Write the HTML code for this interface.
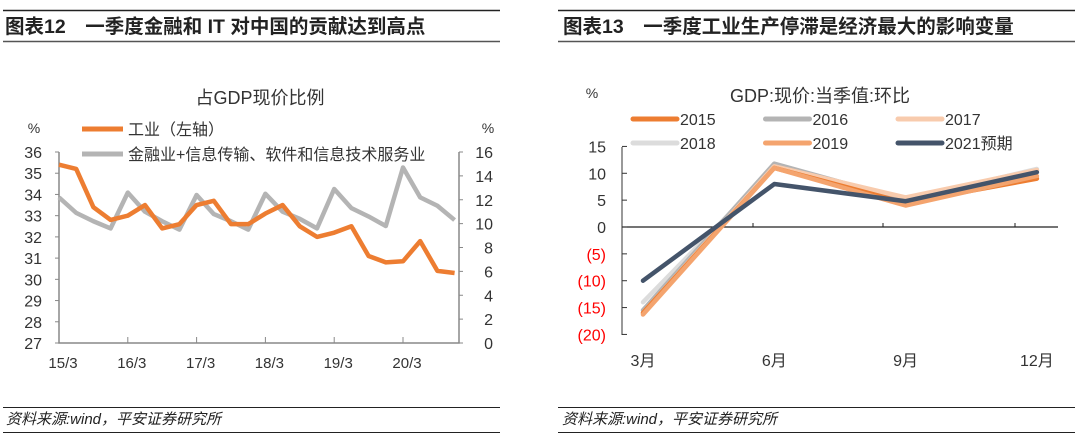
<!DOCTYPE html>
<html><head><meta charset="utf-8"><style>
body{margin:0;background:#fff;}
svg text{font-family:"Liberation Sans","Noto Sans CJK SC",sans-serif;}
</style></head><body>
<svg id="s" width="1080" height="442" viewBox="0 0 1080 442" xmlns="http://www.w3.org/2000/svg">
<g>
<line x1="3" y1="10.5" x2="500" y2="10.5" stroke="#222" stroke-width="1.5"/>
<text x="5" y="33" font-size="19.5" font-weight="bold" fill="#222">图表12　一季度金融和 IT 对中国的贡献达到高点</text>
<line x1="3" y1="41.5" x2="500" y2="41.5" stroke="#555" stroke-width="1.5"/>
</g>
<g>
<line x1="558" y1="10.5" x2="1075" y2="10.5" stroke="#222" stroke-width="1.5"/>
<text x="563" y="33" font-size="19.5" font-weight="bold" fill="#222">图表13　一季度工业生产停滞是经济最大的影响变量</text>
<line x1="558" y1="41.5" x2="1075" y2="41.5" stroke="#555" stroke-width="1.5"/>
</g>
<g>
<line x1="3" y1="407.5" x2="500" y2="407.5" stroke="#222" stroke-width="1"/>
<text x="6" y="424" font-size="15" font-style="italic" fill="#222">资料来源:wind，平安证券研究所</text>
<line x1="3" y1="432.5" x2="500" y2="432.5" stroke="#222" stroke-width="1"/>
</g>
<g>
<line x1="558" y1="407.5" x2="1075" y2="407.5" stroke="#222" stroke-width="1"/>
<text x="562" y="424" font-size="15" font-style="italic" fill="#222">资料来源:wind，平安证券研究所</text>
<line x1="558" y1="432.5" x2="1075" y2="432.5" stroke="#222" stroke-width="1"/>
</g>
<text x="260" y="104" font-size="18" text-anchor="middle" fill="#333">占GDP现价比例</text>
<text x="34" y="133" font-size="14" text-anchor="middle" fill="#333">%</text>
<text x="488" y="133" font-size="14" text-anchor="middle" fill="#333">%</text>
<text x="820" y="102" font-size="18" text-anchor="middle" fill="#333">GDP:现价:当季值:环比</text>
<text x="592" y="98" font-size="14" text-anchor="middle" fill="#333">%</text>
<g id="L"></g><g id="R"></g>
</svg>
<script>
// Left chart data
const qLabels=["15/3","16/3","17/3","18/3","19/3","20/3"];
const industry=[35.4,35.2,33.4,32.8,33.0,33.5,32.4,32.6,33.5,33.7,32.6,32.6,33.1,33.5,32.5,32.0,32.2,32.5,31.1,30.8,30.85,31.8,30.4,30.3];
const finIT=[12.2,10.9,10.2,9.6,12.6,11.0,10.2,9.5,12.4,10.8,10.2,9.5,12.5,11.0,10.4,9.6,12.9,11.3,10.6,9.8,14.7,12.2,11.5,10.3];
const leftTicks=[27,28,29,30,31,32,33,34,35,36];
const rightTicks=[0,2,4,6,8,10,12,14,16];
// Right chart data
const months=["3月","6月","9月","12月"];
const gdpYears=["2015","2016","2017","2018","2019","2021预期"];
const g2015=[-16,11,4.5,9];
const g2016=[-15.5,11.8,5,10.5];
const g2017=[-16,11.3,5.5,10.6];
const g2018=[-14,11,5,10.8];
const g2019=[-16.3,11,4,9.5];
const g2021=[-10,8,4.8,10.2];
const gdpTicks=[15,10,5,0,-5,-10,-15,-20];

const NS="http://www.w3.org/2000/svg";
function mk(p,t,a){const e=document.createElementNS(NS,t);for(const k in a)e.setAttribute(k,a[k]);p.appendChild(e);return e;}
// Left
const L=document.getElementById('L');
const lx=i=>59+i*17.2, ly=v=>152+(36-v)*(191/9), ry=v=>343-v*(191/16);
let ax=mk(L,'path',{d:`M59,152V343H459V152`,stroke:'#888',fill:'none','stroke-width':1.5});


leftTicks.forEach(v=>{mk(L,'line',{x1:55,x2:59,y1:ly(v),y2:ly(v),stroke:'#888'});
 const t=mk(L,'text',{x:42,y:ly(v)+6,'font-size':16,'text-anchor':'end',fill:'#333'});t.textContent=v;
 
 });
rightTicks.forEach(v=>{mk(L,'line',{x1:459,x2:463,y1:ry(v),y2:ry(v),stroke:'#888'});
 const t=mk(L,'text',{x:493,y:ry(v)+6,'font-size':16,'text-anchor':'end',fill:'#333'});t.textContent=v;
 
 });
qLabels.forEach((s,i)=>{const x=lx(i*4);mk(L,'line',{x1:x,x2:x,y1:337,y2:343,stroke:'#888'});
 const t=mk(L,'text',{x:x+4,y:368,'font-size':15,'text-anchor':'middle',fill:'#333'});t.textContent=s;
 
 });
let p1=mk(L,'polyline',{points:finIT.map((v,i)=>lx(i)+','+ry(v)).join(' '),fill:'none',stroke:'#b4b4b4','stroke-width':4.5,'stroke-linejoin':'round'});


let p2=mk(L,'polyline',{points:industry.map((v,i)=>lx(i)+','+ly(v)).join(' '),fill:'none',stroke:'#ed7d31','stroke-width':4.5,'stroke-linejoin':'round'});


[["工业（左轴）","#ed7d31",129],["金融业+信息传输、软件和信息技术服务业","#b4b4b4",154]].forEach(([s,c,y])=>{
 const g=mk(L,'g',{});
 mk(g,'line',{x1:82,x2:123,y1:y,y2:y,stroke:c,'stroke-width':5});
 const t=mk(g,'text',{x:128,y:y+6,'font-size':16,fill:'#333'});t.textContent=s;});
// Right
const R=document.getElementById('R');
const gx=i=>643+i*131.3, gy=v=>227-v*(188/35);
let ra=mk(R,'path',{d:`M622,147V335`,stroke:'#333',fill:'none'});


let za=mk(R,'line',{x1:622,x2:1058,y1:gy(0),y2:gy(0),stroke:'#222','stroke-width':1.2});


[753,883,1015].forEach(x=>mk(R,'line',{x1:x,x2:x,y1:gy(0)-4,y2:gy(0),stroke:'#222'}));
gdpTicks.forEach(v=>{mk(R,'line',{x1:622,x2:627,y1:gy(v),y2:gy(v),stroke:'#333'});
 const t=mk(R,'text',{x:606,y:gy(v)+6,'font-size':16,'text-anchor':'end',fill:v<0?'#f00':'#333'});t.textContent=v<0?'('+(-v)+')':v;
 
 });
months.forEach((m,i)=>{const t=mk(R,'text',{x:gx(i),y:366,'font-size':16,'text-anchor':'middle',fill:'#333'});t.textContent=m;
 
 });
const series=[g2018,g2016,g2017,g2015,g2019,g2021];
const cols=["#dcdcdc","#b4b4b4","#f8cbad","#ed7d31","#f4a46e","#44546a"];
const names=["2018","2016","2017","2015","2019","2021预期"];
series.forEach((d,k)=>{const p=mk(R,'polyline',{points:d.map((v,i)=>gx(i)+','+gy(v)).join(' '),fill:'none',stroke:cols[k],'stroke-width':4.5,'stroke-linejoin':'round','stroke-linecap':'round'});
 
 });
const legCols={"2015":"#ed7d31","2016":"#b4b4b4","2017":"#f8cbad","2018":"#dcdcdc","2019":"#f4a46e","2021预期":"#44546a"};
gdpYears.forEach((s,k)=>{const x=633+(k%3)*132.5,y=119+Math.floor(k/3)*24;
 const g=mk(R,'g',{});
 mk(g,'line',{x1:x,x2:x+44,y1:y,y2:y,stroke:legCols[s],'stroke-width':5,'stroke-linecap':'round'});
 const t=mk(g,'text',{x:x+47,y:y+6,'font-size':16,fill:'#333'});t.textContent=s;});
</script>
</body></html>
